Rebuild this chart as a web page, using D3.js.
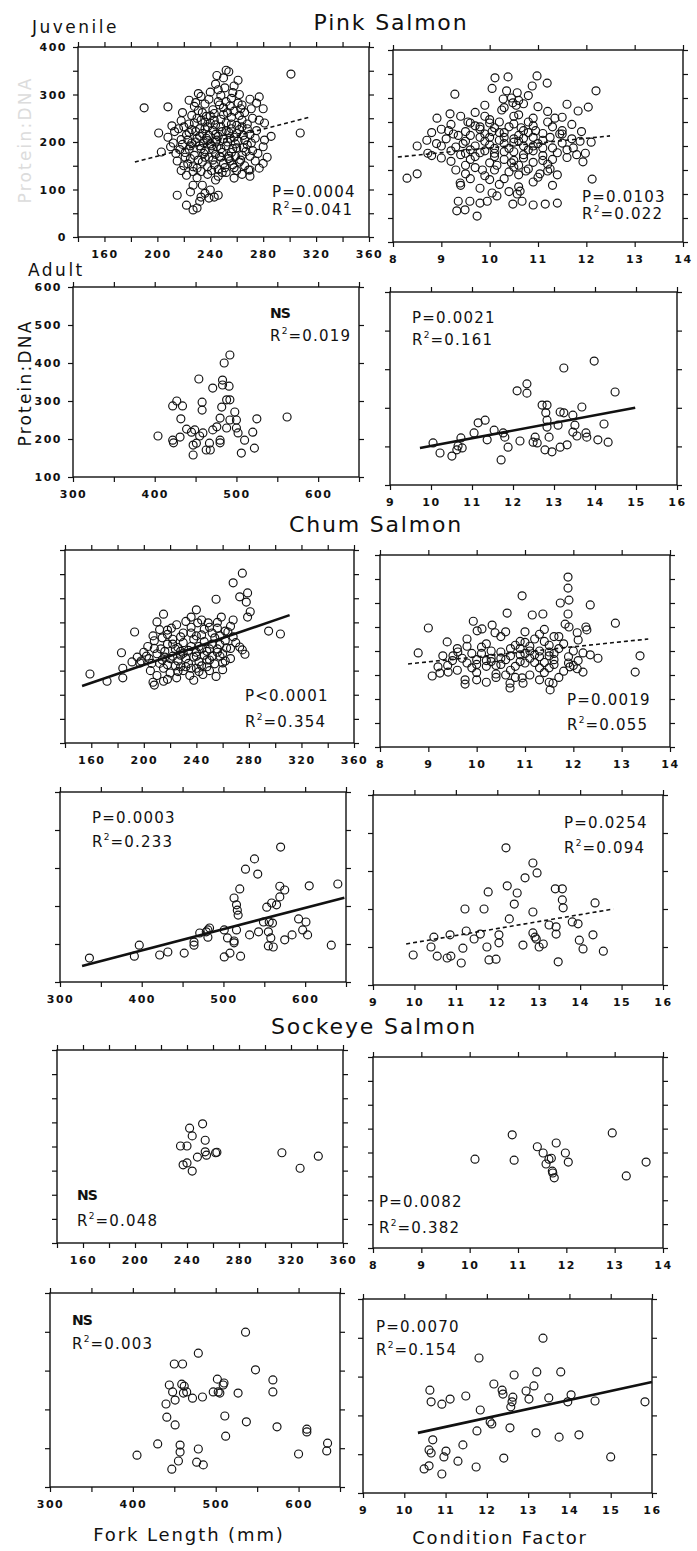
<!DOCTYPE html>
<html>
<head>
<meta charset="utf-8">
<script src="https://cdn.jsdelivr.net/npm/d3@7"></script>
<style>
body { margin: 0; background: #fff; }
svg text { font-family: "DejaVu Sans", sans-serif; fill: #111; }
.ax text { font-size: 11px; font-weight: bold; letter-spacing: 1.5px; }
.ax line { stroke: #111; stroke-width: 1.2; }
.stat { font-size: 15px; letter-spacing: 1.2px; }
.title { font-size: 22px; letter-spacing: 1.8px; }
</style>
</head>
<body>
<svg id="chart" width="697" height="1551"></svg>
<script>
// ---- tick labels ----
var flJuvLabels = [160, 200, 240, 280, 320, 360];
var flAdLabels = [300, 400, 500, 600];
var cfJuvLabels = [8, 9, 10, 11, 12, 13, 14];
var cfAdLabels = [9, 10, 11, 12, 13, 14, 15, 16];
var juvYLabels = [0, 100, 200, 300, 400];
var adYLabels = [100, 200, 300, 400, 500, 600];

// ---- stats ----
var pLabels = ["P=0.0004", "P=0.0103", "NS", "P=0.0021", "P<0.0001", "P=0.0019",
               "P=0.0003", "P=0.0254", "NS", "P=0.0082", "NS", "P=0.0070"];
var r2Values = ["0.041", "0.022", "0.019", "0.161", "0.354", "0.055",
                "0.233", "0.094", "0.048", "0.382", "0.003", "0.154"];

// ---- points: [fork length or condition factor, protein:DNA] ----
var pinkJuvFL = [[190,272],[208,274],[301,343],[308,219],[201,219],[203,179],[211,234],[224,288],[231,302],[233,296],
  [252,351],[254,348],[250,335],[261,330],[244,322],[258,318],[240,305],[248,298],[256,292],[262,300],[270,290],[277,295],[246,310],[252,285],[275,282],
  [228,275],[236,280],[242,268],[250,272],[258,265],[264,278],[271,270],[234,262],[246,285],[255,276],[266,262],[280,270],
  [218,245],[224,238],[230,250],[236,242],[240,255],[244,236],[248,248],[252,240],[256,252],[260,235],[264,246],[268,238],[272,250],[277,246],[281,240],[226,256],[238,232],[250,258],[262,256],
  [208,210],[213,222],[218,205],[222,215],[226,226],[230,208],[234,218],[238,203],[242,224],[246,212],[250,206],[254,220],[258,210],[262,226],[266,204],[270,216],[274,208],[281,204],[286,212],[216,228],[232,228],[244,200],[256,228],[268,228],
  [210,190],[214,176],[219,195],[224,185],[228,172],[232,192],[236,180],[240,196],[244,174],[248,186],[252,192],[256,178],[260,188],[264,172],[268,194],[272,182],[276,176],[280,190],[283,168],[212,198],[226,198],[242,185],[254,170],[270,170],
  [215,160],[220,150],[225,165],[230,145],[234,158],[238,148],[242,162],[246,142],[250,155],[254,165],[258,146],[262,158],[266,150],[270,141],[274,160],[280,155],[218,140],[236,168],[248,168],[260,140],[277,145],[269,141],
  [222,130],[230,125],[238,132],[246,128],[252,136],[258,124],[264,132],[270,128],[227,138],[244,120],
  [215,88],[222,67],[227,57],[230,61],[227,109],[234,109],[233,84],[239,82],[243,84],[246,88],[240,99],[225,95],[236,92],[232,75],
  [220,232],[224,220],[228,240],[232,212],[236,228],[240,240],[244,216],[248,232],[252,224],[256,238],[260,218],[264,232],[229,200],[233,186],[237,208],
  [241,192],[245,204],[249,178],[253,200],[257,186],[261,202],[265,188],[221,178],[225,192],[231,162],[235,176],[239,168],[243,152],[247,170],[251,146],
  [255,160],[259,170],[263,162],[267,180],[223,154],[227,148],[233,138],[241,140],[249,136],[257,152],[235,198],[245,190],[255,208],[223,204],[229,222],
  [239,214],[249,222],[259,196],[243,246],[253,262],[233,246],[263,270],[247,278],[257,304],[239,290],[231,266],[237,254],[261,282],[251,314],[245,340],
  [229,283],[219,262],[243,260],[265,214],[271,198],[275,224],[217,184],[221,168]];

var pinkJuvCF = [[8.29,133],[8.5,142],[8.5,200],[8.72,185],[10.11,342],[10.05,320],[10.38,344],[10.98,346],[11.19,331],[10.88,325],[10.48,290],[10.57,311],[10.28,298],
  [9.28,308],[9.18,267],[8.91,258],[12.2,315],[12.04,281],[11.83,273],[11.6,287],[11.5,225],[11.87,210],[11.73,196],[11.98,185],[11.93,167],[12.12,131],
  [11.4,81],[11.15,79],[10.9,77],[10.67,85],[10.48,79],[10.57,100],[10.63,106],[9.95,85],[9.8,81],[10.05,102],[10.15,96],[9.59,85],[9.32,65],[9.49,67],[9.74,54],[9.35,85],[9.39,123],[11.25,152],[11.04,142],
  [9.4,262],[9.7,270],[10.0,255],[10.3,280],[10.6,265],[10.9,258],[11.2,272],[11.5,260],[9.9,285],[10.7,288],[11.0,282],[9.55,250],
  [9.0,235],[9.2,245],[9.5,230],[9.7,242],[9.9,225],[10.1,238],[10.3,228],[10.5,246],[10.7,232],[10.9,242],[11.1,226],[11.3,240],[11.5,232],[11.7,245],[9.35,222],[10.0,248],[10.6,222],[11.2,250],[11.9,230],[8.8,228],
  [8.9,205],[9.1,215],[9.3,198],[9.5,210],[9.6,192],[9.8,218],[10.0,202],[10.2,212],[10.4,195],[10.5,208],[10.7,216],[10.9,200],[11.1,212],[11.3,196],[11.5,206],[11.7,215],[9.2,190],[10.3,218],[10.8,192],[11.6,192],[12.1,208],[9.0,200],[8.7,212],
  [9.0,175],[9.2,168],[9.4,182],[9.6,172],[9.8,186],[10.0,165],[10.1,178],[10.3,188],[10.5,170],[10.7,182],[10.9,166],[11.1,180],[11.3,172],[11.4,186],[11.6,176],[9.5,160],[10.6,160],[11.2,162],[8.8,180],[11.8,182],
  [9.3,150],[9.5,142],[9.7,155],[9.9,138],[10.1,150],[10.3,132],[10.4,146],[10.6,140],[10.8,152],[11.0,135],[11.2,148],[11.4,140],[10.0,130],[10.5,156],[9.6,132],
  [9.4,118],[9.8,112],[10.2,120],[10.6,115],[10.9,125],[11.3,118],[10.4,105],
  [9.6,222],[9.8,235],[10.0,218],[10.2,228],[10.4,240],[10.6,210],[10.8,228],[11.0,205],[9.7,200],[9.9,210],[10.1,195],[10.3,205],[10.5,215],[10.7,200],
  [10.9,218],[11.1,196],[9.5,185],[9.7,178],[9.9,190],[10.1,185],[10.3,172],[10.5,188],[10.7,175],[10.9,190],[11.1,170],[9.6,248],[9.9,262],[10.2,250],
  [10.5,262],[10.8,250],[10.25,275],[10.45,300],[10.6,295],[10.8,305],[10.35,315],[9.8,240],[10.05,230],[10.65,238],[10.95,232],[11.25,218],[11.45,225],
  [10.15,160],[9.85,150],[10.45,165],[10.75,148],[9.45,205],[9.25,225],[11.35,258],[9.15,232],[10.55,285]];

var pinkAdFL = [[404,208],[422,197],[423,190],[422,287],[427,300],[434,287],[432,253],[431,205],[439,226],[445,218],[449,224],[447,184],[447,158],
  [454,358],[458,297],[458,276],[455,208],[459,216],[463,171],[468,171],[471,334],[471,224],[476,232],[480,190],[480,197],[480,255],[482,284],
  [483,355],[483,342],[485,400],[492,421],[491,339],[488,303],[492,303],[492,250],[488,229],[498,271],[500,250],[500,229],[502,216],[510,197],
  [506,163],[522,176],[520,218],[525,253],[562,258],[451,189],[467,189]];

var pinkAdCF = [[10.05,209],[10.22,183],[10.51,175],[10.63,191],[10.66,201],[10.76,196],[10.73,222],[11.05,235],[11.15,261],[11.32,268],[11.37,217],
  [11.54,242],[11.76,235],[11.8,224],[11.88,198],[11.71,165],[12.1,344],[12.34,362],[12.34,338],[12.17,214],[12.49,211],[12.54,224],[12.71,307],
  [12.83,307],[12.8,287],[12.83,268],[12.83,250],[12.88,224],[12.78,191],[12.95,186],[13.15,289],[13.24,287],[13.1,255],[13.15,198],[13.32,204],
  [13.24,403],[13.46,281],[13.51,255],[13.46,237],[13.56,227],[13.68,302],[13.78,235],[13.8,224],[13.98,421],[14.07,217],[14.22,258],[14.32,211],
  [14.49,341],[12.59,209]];

var chumJuvFL = [[159,143],[172,128],[184,135],[184,155],[183,187],[193,230],[191,168],[195,178],[197,166],[207,222],[210,251],[215,267],[218,234],
  [221,238],[207,126],[208,120],[255,298],[240,276],[268,332],[275,352],[273,303],[279,311],[278,292],[281,272],[279,261],[295,232],[304,226],
  [273,199],[275,193],[277,184],[263,197],[260,166],[236,261],[241,249],[249,249],[256,238],[259,261],[268,255],
  [212,235],[218,225],[225,245],[230,228],[236,240],[240,222],[246,236],[252,228],[256,250],[262,232],[266,242],[244,255],[232,252],
  [203,200],[208,212],[213,195],[218,205],[222,215],[226,198],[230,208],[234,192],[238,215],[242,200],[246,210],[250,195],[254,218],[258,204],[262,212],[266,196],[270,208],[228,190],[214,218],[248,190],
  [198,170],[202,180],[206,165],[210,185],[214,172],[218,162],[222,180],[226,170],[230,186],[234,165],[238,178],[242,168],[246,182],[250,172],[254,164],[258,180],[262,170],[200,188],[224,160],[240,188],[256,188],[266,175],
  [205,150],[210,140],[215,155],[220,145],[225,135],[230,150],[235,140],[240,155],[245,142],[250,150],[255,138],[260,152],[218,132],[238,130],[228,158],[248,158],[215,128],
  [216,190],[220,175],[224,195],[228,182],[232,175],[236,200],[240,180],[244,195],[248,172],[252,205],[256,195],[260,185],[212,165],[216,178],[236,155],
  [244,160],[252,180],[258,222],[228,220],[236,228],[244,224],[222,205],[232,158],[208,196],[264,230],[268,220],[204,175],[250,240],[226,148],[242,148]];

var chumJuvCF = [[8.79,196],[9.0,248],[9.08,148],[9.24,154],[9.2,167],[9.39,219],[9.41,156],[9.51,190],[9.61,198],[9.76,140],[9.76,131],[9.93,262],
  [10.01,242],[10.11,246],[10.32,254],[10.38,238],[10.63,279],[10.94,315],[10.69,133],[10.69,123],[10.94,144],[10.96,133],[11.15,275],[11.37,277],
  [11.52,119],[11.58,133],[11.73,300],[11.89,354],[11.89,331],[11.91,306],[11.89,277],[11.83,256],[11.91,250],[12.35,296],[12.26,250],[12.28,244],
  [12.08,238],[12.1,223],[12.2,196],[12.35,192],[12.51,185],[12.87,258],[13.38,190],[13.28,156],[12.08,163],[12.2,156],[11.93,167],
  [9.8,225],[10.2,215],[10.5,230],[10.8,212],[11.0,240],[11.2,225],[11.4,245],[11.6,230],[11.8,215],[11.0,218],[11.3,235],[10.6,240],[11.5,212],
  [9.3,190],[9.6,205],[9.9,195],[10.1,208],[10.3,185],[10.5,198],[10.7,190],[10.9,205],[11.1,185],[11.3,200],[11.5,190],[11.7,205],[11.9,188],[12.0,200],[10.0,182],[11.0,195],[11.6,182],[9.8,210],
  [9.4,170],[9.6,160],[9.8,175],[10.0,155],[10.2,168],[10.4,152],[10.5,172],[10.7,160],[10.9,178],[11.1,150],[11.3,165],[11.4,155],[11.6,172],[11.8,158],[12.0,170],[10.3,178],[11.2,176],[9.9,165],[11.5,165],[10.6,150],
  [10.0,140],[10.2,135],[10.4,145],[11.3,140],[11.5,135],[11.7,145],[10.8,145],
  [10.1,195],[10.3,200],[10.5,185],[10.7,205],[10.9,192],[11.1,200],[11.3,188],[11.5,198],[10.2,180],[10.4,170],[10.6,182],[10.8,168],[11.0,175],
  [11.2,192],[11.4,176],[11.6,195],[10.9,220],[11.1,210],[11.7,230],[11.4,220],[9.7,185],[9.5,180],[10.0,172],[11.9,175],[12.1,180]];

var chumAdFL = [[336,163],[391,168],[397,197],[422,171],[432,179],[452,176],[464,197],[464,205],[471,229],[479,232],[483,242],[481,218],[501,237],
  [501,166],[505,216],[508,176],[513,203],[513,208],[516,237],[513,321],[516,303],[517,289],[518,276],[520,345],[521,168],[527,397],[532,224],
  [538,424],[542,384],[543,232],[549,258],[553,297],[555,195],[555,232],[558,216],[559,308],[560,255],[561,192],[565,303],[569,324],[569,352],
  [570,455],[575,342],[575,211],[584,224],[592,266],[597,237],[601,258],[603,224],[605,353],[632,197],[640,358],[481,237],[556,258]];

var chumAdCF = [[9.97,179],[10.4,200],[10.47,226],[10.55,176],[10.79,171],[10.88,176],[10.86,232],[11.13,158],[11.17,197],[11.25,242],[11.22,300],
  [11.44,221],[11.59,234],[11.68,300],[11.75,200],[11.78,345],[11.8,166],[11.97,168],[12.04,232],[12.04,211],[12.21,461],[12.24,361],[12.29,274],
  [12.41,313],[12.48,342],[12.62,205],[12.67,382],[12.86,421],[12.86,292],[12.86,237],[12.94,221],[12.96,395],[13.01,200],[13.11,208],[13.25,258],
  [13.4,353],[13.42,253],[13.42,234],[13.47,161],[13.57,353],[13.57,324],[13.59,303],[13.81,266],[13.95,261],[13.98,218],[14.07,195],[14.31,232],
  [14.36,316],[14.56,189],[12.91,226]];

var sockJuvFL = [[242,238],[252,247],[244,222],[235,201],[240,201],[254,213],[254,189],[255,182],[262,187],[263,188],[248,178],[237,162],[240,166],
  [244,149],[313,187],[327,155],[341,180]];

var sockJuvCF = [[10.11,186],[10.88,237],[10.92,184],[11.4,212],[11.52,199],[11.79,220],[11.69,188],[11.58,176],[11.71,161],[11.72,157],[11.75,147],
  [11.98,199],[12.04,180],[12.95,241],[13.24,151],[13.65,180],[11.64,186]];

var sockAdFL = [[405,182],[430,211],[447,146],[455,167],[457,190],[457,208],[441,280],[451,260],[440,314],[444,363],[448,345],[451,324],[450,417],
  [460,417],[459,365],[461,342],[465,345],[472,329],[479,445],[479,198],[477,164],[485,157],[484,332],[497,345],[502,378],[503,345],[505,342],
  [509,363],[510,368],[511,283],[512,231],[527,342],[536,499],[537,268],[548,402],[569,376],[569,345],[574,255],[600,185],[610,249],[610,242],
  [634,193],[635,213],[462,360]];

var sockAdCF = [[10.48,162],[10.6,170],[10.62,365],[10.65,335],[10.6,211],[10.65,203],[10.69,237],[10.91,329],[10.91,149],[10.96,193],[11.01,208],
  [11.11,342],[11.3,182],[11.42,224],[11.49,350],[11.74,167],[11.76,260],[11.81,448],[11.84,314],[12.08,283],[12.12,278],[12.17,381],[12.37,365],
  [12.39,355],[12.41,190],[12.56,268],[12.58,322],[12.61,335],[12.63,347],[12.66,404],[12.95,363],[13.02,342],[13.14,376],[13.19,255],[13.21,412],
  [13.36,499],[13.5,345],[13.75,244],[13.79,412],[13.96,335],[14.04,353],[14.23,250],[14.62,337],[15.0,193],[15.83,335]];

// ---- regression lines (end points) ----
var pinkJuvFLFit = [[183,158],[316,253]];
var pinkJuvCFFit = [[8.1,177],[12.49,221]];
var pinkAdCFFit = [[9.73,196],[14.98,300]];
var chumJuvFLFit = [[153,118],[311,265]];
var chumJuvCFFit = [[8.58,173],[13.55,225]];
var chumAdFLFit = [[327,142],[648,322]];
var chumAdCFFit = [[9.8,208],[14.8,300]];
var sockAdCFFit = [[10.33,255],[16,386]];

var xKinds = {
  flJuv: {dom: [140, 360], ticks: d3.range(140, 361, 20), labels: flJuvLabels},
  flAd:  {dom: [300, 650], ticks: d3.range(300, 651, 50), labels: flAdLabels},
  cfJuv: {dom: [8, 14], ticks: d3.range(8, 15, 1), labels: cfJuvLabels},
  cfAd:  {dom: [9, 16], ticks: d3.range(9, 17, 1), labels: cfAdLabels}
};
var yKinds = {
  juv: {dom: [0, 400], ticks: d3.range(0, 401, 50), labels: juvYLabels},
  ad:  {dom: [100, 600], ticks: d3.range(100, 601, 100), labels: adYLabels}
};

// box = [left, top, right, bottom]; st = [text x, baseline 1, baseline 2]
var panels = [
  {pts: pinkJuvFL, fit: pinkJuvFLFit, dash: true,  xs: "flJuv", ys: "juv", box: [78, 47, 369, 237],  yLab: true,  st: [272, 197, 215]},
  {pts: pinkJuvCF, fit: pinkJuvCFFit, dash: true,  xs: "cfJuv", ys: "juv", box: [393, 50, 683, 242], yLab: false, st: [582, 202, 219]},
  {pts: pinkAdFL,  fit: null,         dash: false, xs: "flAd",  ys: "ad",  box: [73, 287, 359, 477], yLab: true,  st: [270, 318, 341]},
  {pts: pinkAdCF,  fit: pinkAdCFFit,  dash: false, xs: "cfAd",  ys: "ad",  box: [390, 292, 677, 485], yLab: false, st: [412, 323, 345]},
  {pts: chumJuvFL, fit: chumJuvFLFit, dash: false, xs: "flJuv", ys: "juv", box: [65, 550, 354, 743], yLab: false, st: [245, 701, 727]},
  {pts: chumJuvCF, fit: chumJuvCFFit, dash: true,  xs: "cfJuv", ys: "juv", box: [380, 555, 670, 747], yLab: false, st: [567, 705, 730]},
  {pts: chumAdFL,  fit: chumAdFLFit,  dash: false, xs: "flAd",  ys: "ad",  box: [60, 792, 346, 982], yLab: false, st: [92, 823, 847]},
  {pts: chumAdCF,  fit: chumAdCFFit,  dash: true,  xs: "cfAd",  ys: "ad",  box: [373, 795, 663, 985], yLab: false, st: [564, 828, 853]},
  {pts: sockJuvFL, fit: null,         dash: false, xs: "flJuv", ys: "juv", box: [57, 1050, 343, 1243], yLab: false, st: [77, 1200, 1226]},
  {pts: sockJuvCF, fit: null,         dash: false, xs: "cfJuv", ys: "juv", box: [373, 1057, 663, 1248], yLab: false, st: [379, 1207, 1233]},
  {pts: sockAdFL,  fit: null,         dash: false, xs: "flAd",  ys: "ad",  box: [50, 1293, 340, 1487], yLab: false, st: [72, 1325, 1349]},
  {pts: sockAdCF,  fit: sockAdCFFit,  dash: false, xs: "cfAd",  ys: "ad",  box: [363, 1299, 652, 1493], yLab: false, st: [376, 1332, 1355]}
];

var svg = d3.select("#chart");

panels.forEach(function(p, i) {
  var xk = xKinds[p.xs], yk = yKinds[p.ys];
  var b = p.box;
  var x = d3.scaleLinear().domain(xk.dom).range([b[0], b[2]]);
  var y = d3.scaleLinear().domain(yk.dom).range([b[3], b[1]]);
  var g = svg.append("g");

  g.append("rect")
    .attr("x", b[0]).attr("y", b[1])
    .attr("width", b[2] - b[0]).attr("height", b[3] - b[1])
    .attr("fill", "none").attr("stroke", "#111").attr("stroke-width", 1.4);

  var xFmt = function(d) { return xk.labels.indexOf(d) >= 0 ? d : ""; };
  var yFmt = function(d) { return p.yLab && yk.labels.indexOf(d) >= 0 ? d : ""; };

  g.append("g").attr("class", "ax").attr("transform", "translate(0," + b[3] + ")")
    .call(d3.axisBottom(x).tickValues(xk.ticks).tickSize(5).tickPadding(8).tickFormat(xFmt));
  g.append("g").attr("class", "ax").attr("transform", "translate(0," + b[1] + ")")
    .call(d3.axisTop(x).tickValues(xk.ticks).tickSize(5).tickFormat(""));
  g.append("g").attr("class", "ax").attr("transform", "translate(" + b[0] + ",0)")
    .call(d3.axisLeft(y).tickValues(yk.ticks).tickSize(5).tickPadding(6).tickFormat(yFmt));
  g.append("g").attr("class", "ax").attr("transform", "translate(" + b[2] + ",0)")
    .call(d3.axisRight(y).tickValues(yk.ticks).tickSize(5).tickFormat(""));
  g.selectAll(".domain").remove();

  g.selectAll("circle.pt")
    .data(p.pts)
    .join("circle")
      .attr("class", "pt")
      .attr("cx", function(d) { return x(d[0]); })
      .attr("cy", function(d) { return y(d[1]); })
      .attr("r", 4)
      .attr("fill", "none")
      .attr("stroke", "#111")
      .attr("stroke-width", 1.15);

  if (p.fit) {
    g.append("line")
      .attr("x1", x(p.fit[0][0])).attr("y1", y(p.fit[0][1]))
      .attr("x2", x(p.fit[1][0])).attr("y2", y(p.fit[1][1]))
      .attr("stroke", "#111")
      .attr("stroke-width", p.dash ? 1.6 : 2.6)
      .attr("stroke-dasharray", p.dash ? "4,3" : null);
  }

  var t1 = g.append("text").attr("class", "stat").attr("x", p.st[0]).attr("y", p.st[1]);
  t1.text(pLabels[i]);
  if (pLabels[i] === "NS") t1.attr("font-weight", "bold").style("letter-spacing", "-1px").style("font-size", "14px");
  var t2 = g.append("text").attr("class", "stat").attr("x", p.st[0]).attr("y", p.st[2]);
  t2.append("tspan").text("R");
  t2.append("tspan").attr("dy", -7).style("font-size", "9px").text("2");
  t2.append("tspan").attr("dy", 7).text("=" + r2Values[i]);
});

// ---- titles and labels ----
svg.append("text").attr("class", "title").attr("x", 391).attr("y", 30).attr("text-anchor", "middle").text("Pink Salmon");
svg.append("text").attr("class", "title").attr("x", 376).attr("y", 532).attr("text-anchor", "middle").text("Chum Salmon");
svg.append("text").attr("class", "title").attr("x", 374).attr("y", 1034).attr("text-anchor", "middle").text("Sockeye Salmon");

svg.append("text").attr("x", 32).attr("y", 33).style("font-size", "17px").style("letter-spacing", "2.5px").text("Juvenile");
svg.append("text").attr("x", 28).attr("y", 276).style("font-size", "17px").style("letter-spacing", "2.5px").text("Adult");

svg.append("text").attr("transform", "translate(31,383) rotate(-90)").attr("text-anchor", "middle")
  .style("font-size", "17px").style("letter-spacing", "2.2px").text("Protein:DNA");
svg.append("text").attr("transform", "translate(31,140) rotate(-90)").attr("text-anchor", "middle")
  .style("font-size", "17px").style("letter-spacing", "2.2px").style("fill", "#dcdcdc").text("Protein:DNA");

svg.append("text").attr("x", 189).attr("y", 1541).attr("text-anchor", "middle")
  .style("font-size", "18px").style("letter-spacing", "1.9px").text("Fork Length (mm)");
svg.append("text").attr("x", 500).attr("y", 1544).attr("text-anchor", "middle")
  .style("font-size", "18px").style("letter-spacing", "1.8px").text("Condition Factor");
</script>
</body>
</html>
